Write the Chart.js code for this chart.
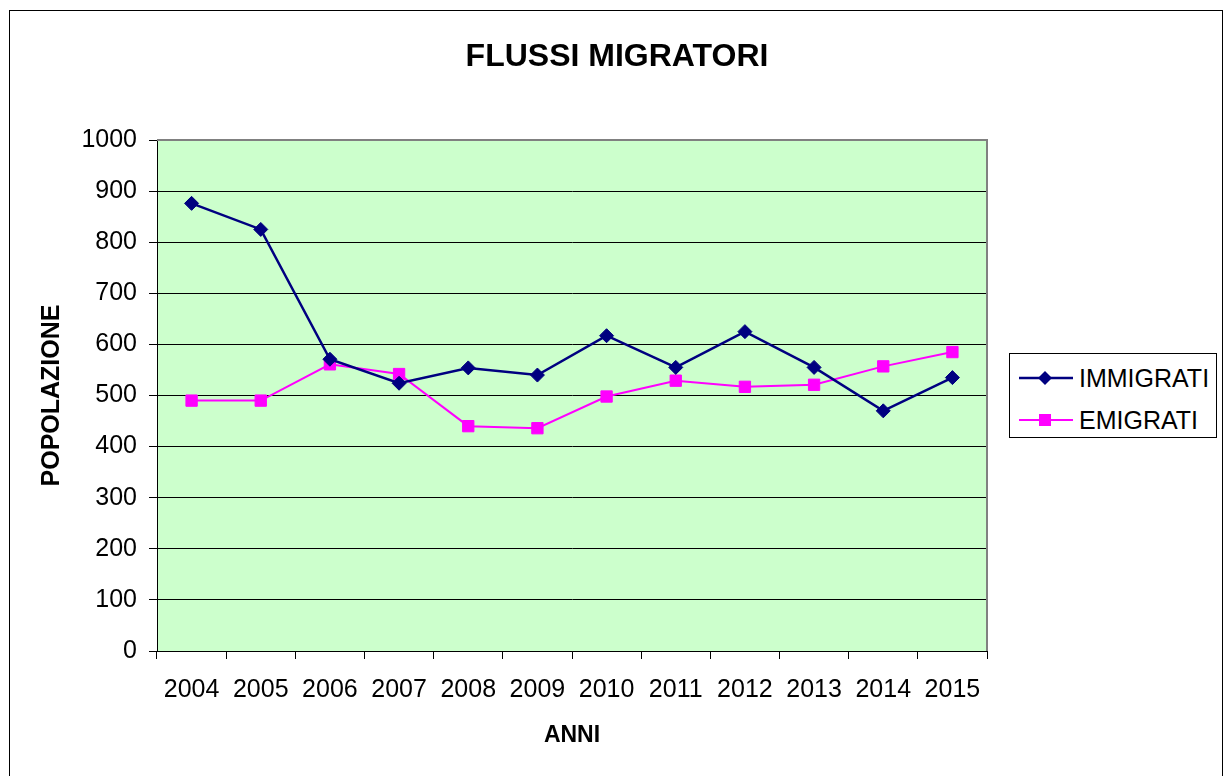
<!DOCTYPE html>
<html>
<head>
<meta charset="utf-8">
<script src="https://cdn.jsdelivr.net/npm/chart.js@4/dist/chart.umd.min.js"></script>
<style>
  html, body { margin: 0; padding: 0; background: #fff; }
  #wrap { position: relative; width: 1225px; height: 776px; overflow: hidden; font-family: "Liberation Sans", Arial, sans-serif; }
  #c { position: absolute; left: 0; top: 0; }
  #title { position: absolute; left: 0; width: 1234px; top: 36px; line-height: 38px; text-align: center; font-weight: bold; font-size: 32px; color: #000; }
  #legend { position: absolute; left: 1009px; top: 353px; width: 208px; height: 85px; border: 1px solid #000; background: #fff; box-sizing: border-box; }
  .li { position: absolute; left: 8px; height: 30px; display: flex; align-items: center; font-size: 25px; color: #000; }
  .li svg { margin-right: 5px; }
</style>
</head>
<body>
<div id="wrap">
  <canvas id="c" width="1225" height="776"></canvas>
  <div id="title">FLUSSI MIGRATORI</div>
  <div id="legend">
    <div class="li" style="top:9px"><svg width="56" height="20"><line x1="1" y1="10" x2="55" y2="10" stroke="#000080" stroke-width="2.5"/><polygon points="27,3 34,10 27,17 20,10" fill="#000080"/></svg>IMMIGRATI</div>
    <div class="li" style="top:51px"><svg width="56" height="20"><line x1="1" y1="10" x2="55" y2="10" stroke="#FF00FF" stroke-width="2"/><rect x="21" y="4" width="12" height="12" fill="#FF00FF"/></svg>EMIGRATI</div>
  </div>
</div>
<script>
const years = ['2004','2005','2006','2007','2008','2009','2010','2011','2012','2013','2014','2015'];
const immigrati = [876, 825, 571, 524, 554, 540, 617, 555, 625, 555, 470, 535];
const emigrati  = [490, 490, 561, 542, 440, 436, 498, 529, 517, 521, 557, 585];
const yTicks = [0, 100, 200, 300, 400, 500, 600, 700, 800, 900, 1000];
const seriesNames = ['IMMIGRATI', 'EMIGRATI'];

const bgPlugin = {
  id: 'bg',
  beforeDraw(chart) {
    const {ctx, chartArea: a} = chart;
    ctx.save();
    ctx.fillStyle = '#fff';
    ctx.fillRect(0, 0, chart.width, chart.height);
    ctx.fillStyle = '#CCFFCC';
    ctx.fillRect(a.left, a.top, a.right - a.left, a.bottom - a.top);
    ctx.strokeStyle = '#000';
    ctx.lineWidth = 1;
    ctx.strokeRect(9.5, 10.5, 1213, 800);
    ctx.restore();
  },
  beforeDatasetsDraw(chart) {
    const {ctx, chartArea: a} = chart;
    ctx.save();
    ctx.strokeStyle = '#808080';
    ctx.lineWidth = 2;
    ctx.beginPath();
    ctx.moveTo(a.left, a.top);
    ctx.lineTo(a.right, a.top);
    ctx.lineTo(a.right, a.bottom);
    ctx.stroke();
    ctx.restore();
  }
};

const FONT = '"Liberation Sans", Arial, sans-serif';

new Chart(document.getElementById('c'), {
  type: 'line',
  data: {
    labels: years,
    datasets: [
      {
        label: seriesNames[0],
        data: immigrati,
        borderColor: '#000080',
        backgroundColor: '#000080',
        borderWidth: 2.5,
        pointStyle: 'rectRot',
        pointRadius: 7,
        pointBorderWidth: 1,
        tension: 0
      },
      {
        label: seriesNames[1],
        data: emigrati,
        borderColor: '#FF00FF',
        backgroundColor: '#FF00FF',
        borderWidth: 2,
        pointStyle: 'rect',
        pointRadius: 8,
        pointBorderWidth: 1,
        tension: 0
      }
    ]
  },
  options: {
    responsive: false,
    devicePixelRatio: 1,
    animation: false,
    layout: { padding: { top: 140, right: 238, left: 0, bottom: 0 } },
    plugins: {
      legend: { display: false },
      title: { display: false },
      tooltip: { enabled: false }
    },
    scales: {
      x: {
        type: 'category',
        offset: true,
        grid: { offset: true, drawOnChartArea: false, drawTicks: true, tickLength: 8, color: '#000', lineWidth: 1 },
        border: { display: true, color: '#000', width: 1 },
        ticks: { color: '#000', font: { family: FONT, size: 25 }, padding: 16, maxRotation: 0, autoSkip: false },
        title: { display: true, text: 'ANNI', color: '#000', font: { family: FONT, size: 23, weight: 'bold' }, padding: { top: 0, bottom: 27 } },
        afterFit(scale) { scale.height = 125; }
      },
      y: {
        min: 0,
        max: 1000,
        afterBuildTicks(scale) { scale.ticks = yTicks.map(v => ({ value: v })); },
        grid: { drawOnChartArea: true, drawTicks: true, tickLength: 8, color: '#000', lineWidth: 1 },
        border: { display: true, color: '#000', width: 1 },
        ticks: { color: '#000', font: { family: FONT, size: 25 }, padding: 12, callback: (v) => String(v) },
        title: { display: true, text: 'POPOLAZIONE', color: '#000', font: { family: FONT, size: 25, weight: 'bold' }, padding: { top: 37, bottom: 0 } },
        afterFit(scale) { scale.width = 157; }
      }
    }
  },
  plugins: [bgPlugin]
});
</script>
</body>
</html>
